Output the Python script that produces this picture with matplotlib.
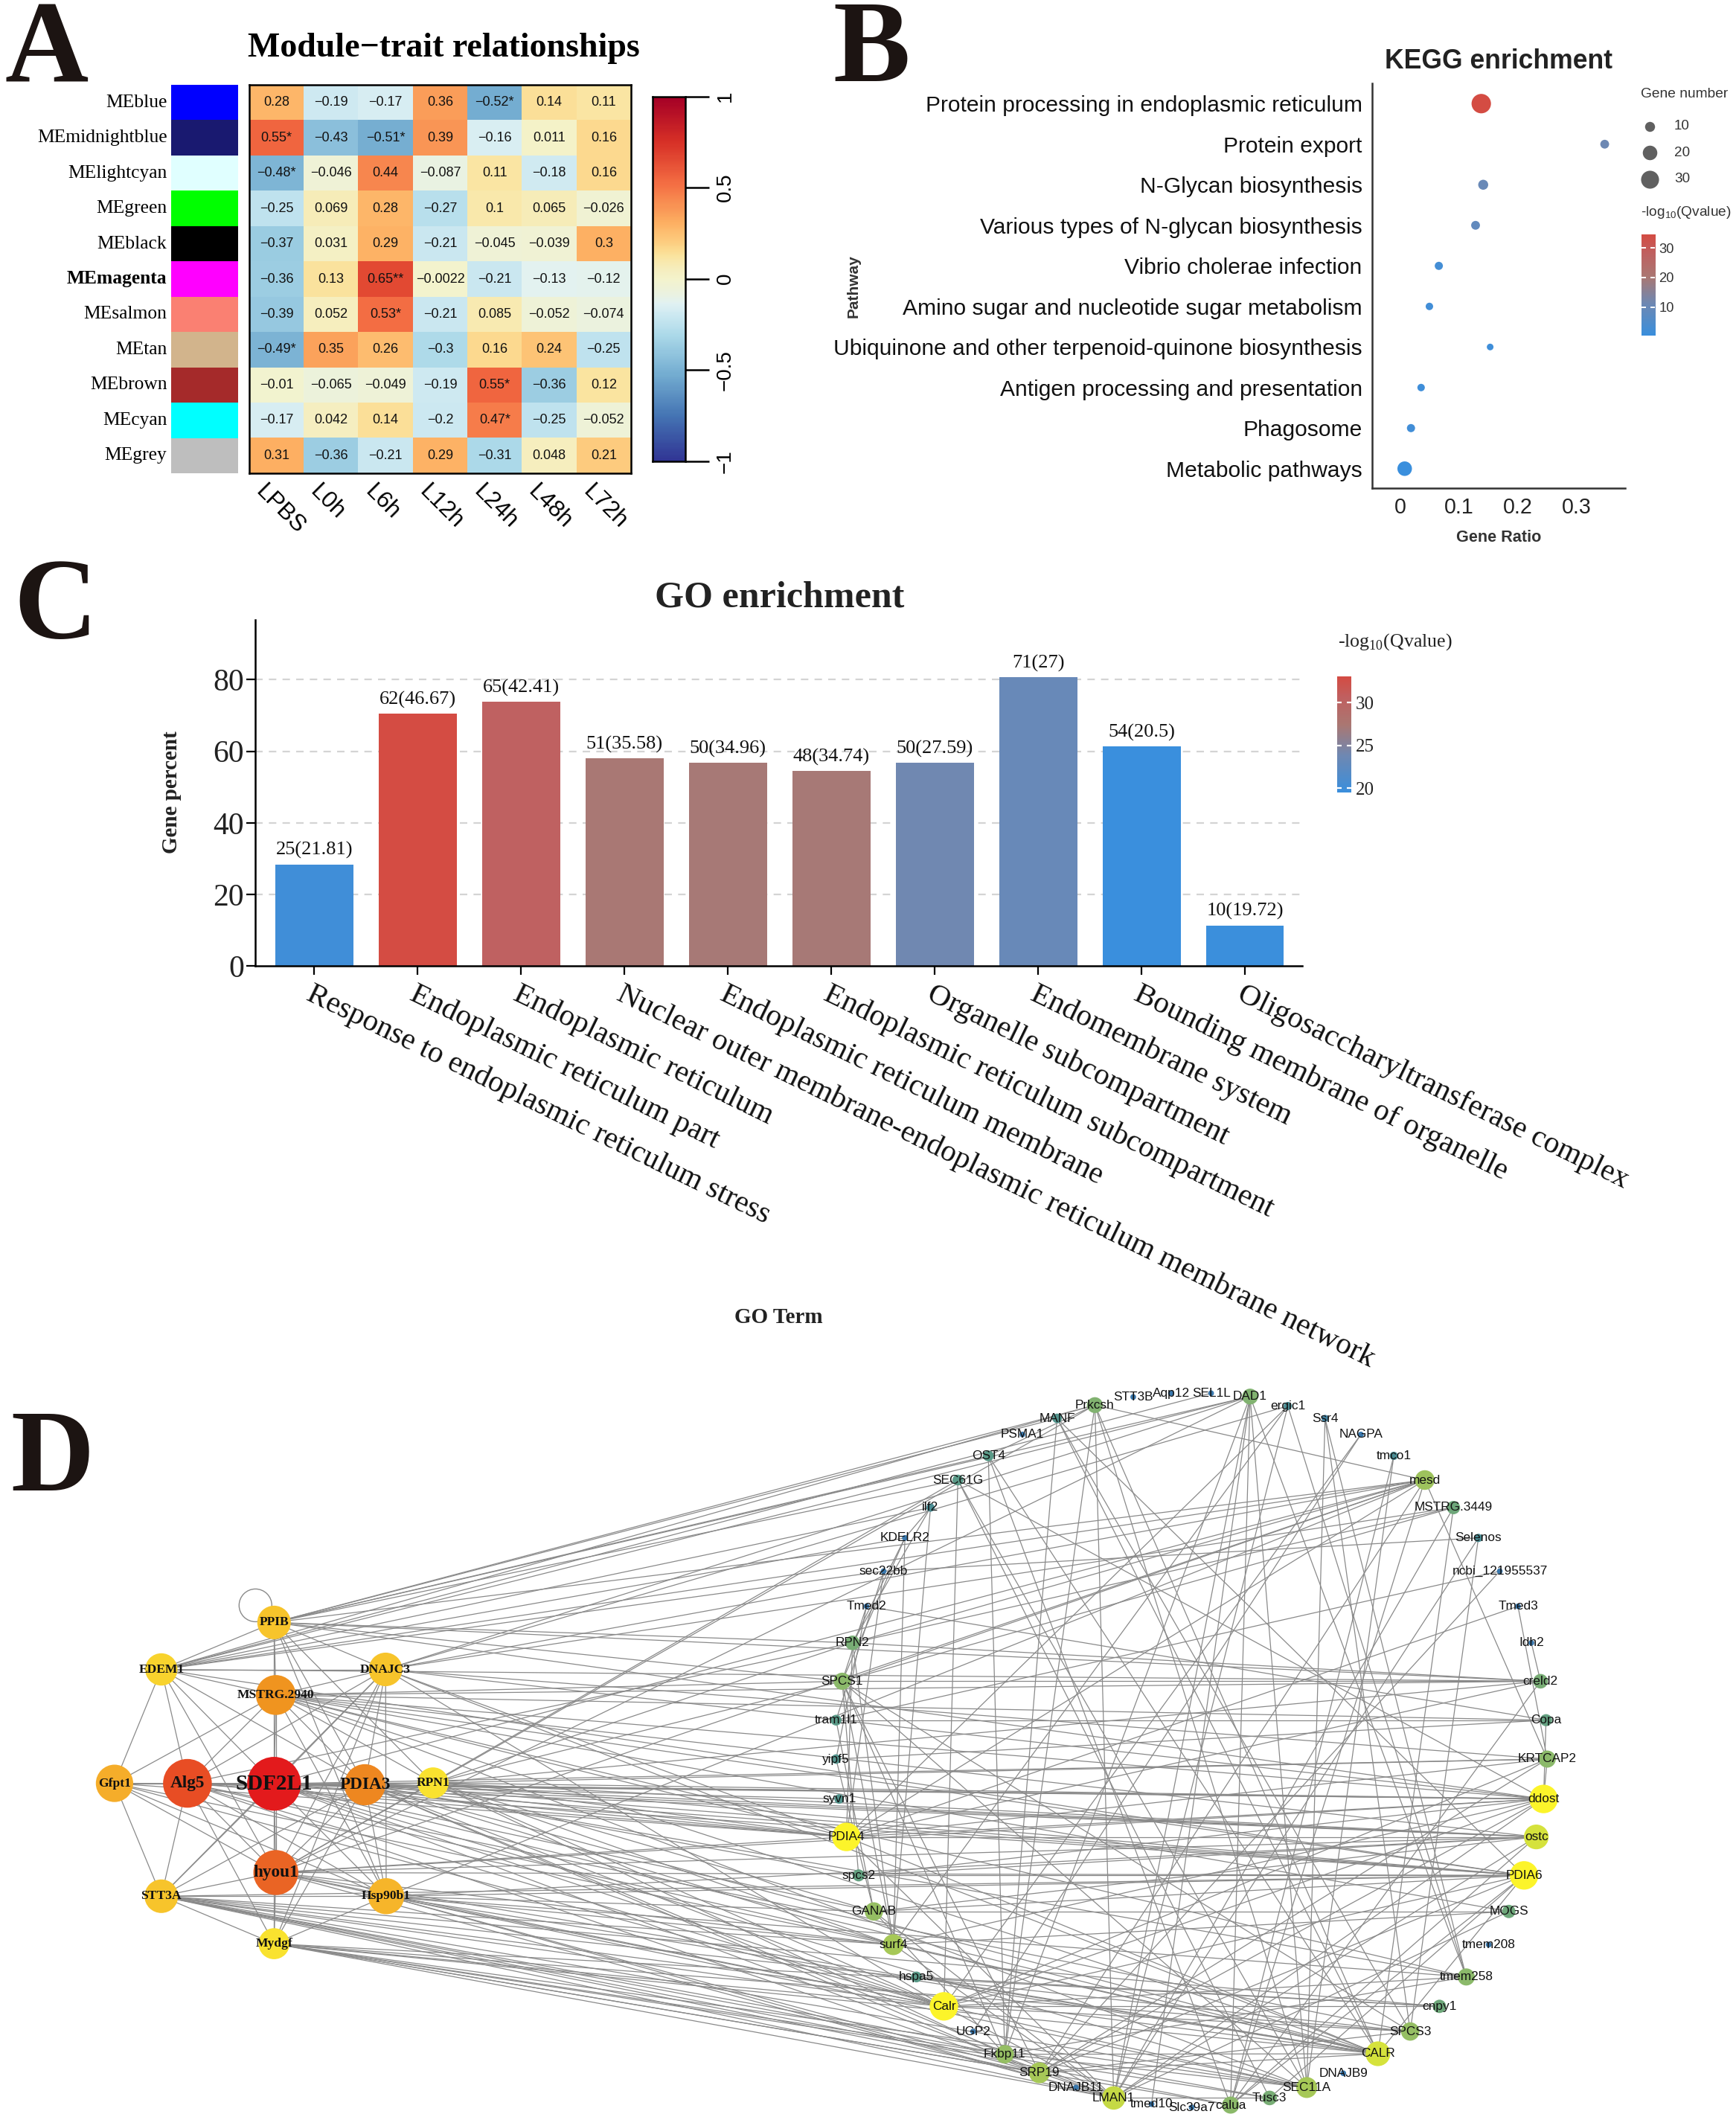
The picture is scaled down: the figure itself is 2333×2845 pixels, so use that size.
import numpy as np
import matplotlib
matplotlib.use('Agg')
import matplotlib.pyplot as plt
from matplotlib.colors import LinearSegmentedColormap, ListedColormap, Normalize, to_rgba
from matplotlib.collections import LineCollection
from matplotlib.patches import Rectangle, Circle

# ============================ DATA ============================
# --- Panel A: module-trait heatmap
modules = ['MEblue', 'MEmidnightblue', 'MElightcyan', 'MEgreen', 'MEblack', 'MEmagenta',
           'MEsalmon', 'MEtan', 'MEbrown', 'MEcyan', 'MEgrey']
module_colors = ['#0000FF', '#191970', '#E0FFFF', '#00FF00', '#000000', '#FF00FF',
                 '#FA8072', '#D2B48C', '#A52A2A', '#00FFFF', '#BEBEBE']
traits = ['LPBS', 'L0h', 'L6h', 'L12h', 'L24h', 'L48h', 'L72h']
corr_values = [
    [0.28, -0.19, -0.17, 0.36, -0.52, 0.14, 0.11],
    [0.55, -0.43, -0.51, 0.39, -0.16, 0.011, 0.16],
    [-0.48, -0.046, 0.44, -0.087, 0.11, -0.18, 0.16],
    [-0.25, 0.069, 0.28, -0.27, 0.1, 0.065, -0.026],
    [-0.37, 0.031, 0.29, -0.21, -0.045, -0.039, 0.3],
    [-0.36, 0.13, 0.65, -0.0022, -0.21, -0.13, -0.12],
    [-0.39, 0.052, 0.53, -0.21, 0.085, -0.052, -0.074],
    [-0.49, 0.35, 0.26, -0.3, 0.16, 0.24, -0.25],
    [-0.01, -0.065, -0.049, -0.19, 0.55, -0.36, 0.12],
    [-0.17, 0.042, 0.14, -0.2, 0.47, -0.25, -0.052],
    [0.31, -0.36, -0.21, 0.29, -0.31, 0.048, 0.21]]
corr_stars = [
    ['', '', '', '', '*', '', ''],
    ['*', '', '*', '', '', '', ''],
    ['*', '', '', '', '', '', ''],
    ['', '', '', '', '', '', ''],
    ['', '', '', '', '', '', ''],
    ['', '', '**', '', '', '', ''],
    ['', '', '*', '', '', '', ''],
    ['*', '', '', '', '', '', ''],
    ['', '', '', '', '*', '', ''],
    ['', '', '', '', '*', '', ''],
    ['', '', '', '', '', '', '']]
highlight_module = 'MEmagenta'

# --- Panel B: KEGG enrichment
kegg_terms = ['Protein processing in endoplasmic reticulum', 'Protein export',
              'N-Glycan biosynthesis', 'Various types of N-glycan biosynthesis',
              'Vibrio cholerae infection', 'Amino sugar and nucleotide sugar metabolism',
              'Ubiquinone and other terpenoid-quinone biosynthesis',
              'Antigen processing and presentation', 'Phagosome', 'Metabolic pathways']
kegg_ratio = [0.1376, 0.3473, 0.1409, 0.1279, 0.0655, 0.0495, 0.1527, 0.0354, 0.0182, 0.0075]
kegg_count = [35, 8, 10, 8, 7, 6, 5, 6, 7, 20]
kegg_logq = [34.6, 11.0, 10.0, 8.5, 2.5, 2.0, 1.5, 1.5, 2.0, 0.3]
kegg_xticks = [0, 0.1, 0.2, 0.3]
kegg_size_breaks = [10, 20, 30]
kegg_color_breaks = [10, 20, 30]

# --- Panel C: GO enrichment
go_terms = ['Response to endoplasmic reticulum stress', 'Endoplasmic reticulum part',
            'Endoplasmic reticulum',
            'Nuclear outer membrane-endoplasmic reticulum membrane network',
            'Endoplasmic reticulum membrane', 'Endoplasmic reticulum subcompartment',
            'Organelle subcompartment', 'Endomembrane system',
            'Bounding membrane of organelle', 'Oligosaccharyltransferase complex']
go_count = [25, 62, 65, 51, 50, 48, 50, 71, 54, 10]
go_fold = [21.81, 46.67, 42.41, 35.58, 34.96, 34.74, 27.59, 27, 20.5, 19.72]
go_percent = [28.41, 70.45, 73.86, 57.95, 56.82, 54.55, 56.82, 80.68, 61.36, 11.36]
go_logq = [20.0, 33.07, 30.5, 27.3, 27.2, 27.2, 23.9, 23.3, 19.49, 19.6]
go_yticks = [0, 20, 40, 60, 80]
go_color_breaks = [20, 25, 30]

# --- Panel D: co-expression network (layout coordinates in pixel units)
hub_names = ['PPIB', 'EDEM1', 'DNAJC3', 'MSTRG.2940', 'Gfpt1', 'Alg5', 'SDF2L1', 'PDIA3',
             'RPN1', 'hyou1', 'STT3A', 'Hsp90b1', 'Mydgf']
hub_x = [368.3, 216.8, 518.2, 370.7, 153.9, 251.9, 368.3, 490.3, 582.0, 370.7, 216.8, 519.0, 368.3]
hub_y = [2180.4, 2243.5, 2243.5, 2277.9, 2396.6, 2396.6, 2397.2, 2398.5, 2396.0, 2516.5,
         2548.3, 2548.3, 2612.1]
hub_degree = [23, 22, 23, 28, 26, 35, 39, 29, 21, 32, 23, 25, 21]

ring_names = ['STT3B', 'Aqp12', 'SEL1L', 'DAD1', 'ergic1', 'Ssr4', 'NAGPA', 'tmco1', 'mesd',
              'MSTRG.3449', 'Selenos', 'ncbi_121955537', 'Tmed3', 'Idh2', 'creld2', 'Copa',
              'KRTCAP2', 'ddost', 'ostc', 'PDIA6', 'MOGS', 'tmem208', 'tmem258', 'cnpy1',
              'SPCS3', 'CALR', 'DNAJB9', 'SEC11A', 'Tusc3', 'calua', 'Slc39a7', 'tmed10',
              'LMAN1', 'DNAJB11', 'SRP19', 'Fkbp11', 'UGP2', 'Calr', 'hspa5', 'surf4',
              'GANAB', 'spcs2', 'PDIA4', 'syvn1', 'yipf5', 'tram1l1', 'SPCS1', 'RPN2',
              'Tmed2', 'sec22bb', 'KDELR2', 'ilf2', 'SEC61G', 'OST4', 'PSMA1', 'MANF', 'Prkcsh']
ring_x = [1522.9, 1573.6, 1627.6, 1680.0, 1730.7, 1780.7, 1828.9, 1873.1, 1914.8, 1953.3,
          1986.8, 2015.5, 2040.0, 2058.0, 2070.3, 2077.7, 2079.3, 2074.4, 2064.6, 2048.2,
          2027.7, 2000.7, 1970.5, 1934.5, 1895.2, 1851.8, 1805.2, 1756.1, 1706.2, 1653.8,
          1601.5, 1547.5, 1496.7, 1446.0, 1396.9, 1350.3, 1307.7, 1268.5, 1231.6, 1200.5,
          1174.4, 1153.9, 1137.5, 1127.7, 1123.6, 1123.6, 1131.8, 1145.7, 1164.5, 1187.5,
          1216.1, 1250.5, 1287.3, 1328.2, 1374.0, 1420.6, 1471.4]
ring_y = [1877.4, 1872.3, 1872.3, 1876.8, 1889.5, 1906.1, 1927.8, 1956.5, 1989.0, 2026.0,
          2066.8, 2111.5, 2158.7, 2207.8, 2259.4, 2311.7, 2364.0, 2417.6, 2468.6, 2520.3,
          2568.8, 2613.4, 2656.8, 2696.3, 2730.1, 2760.0, 2786.2, 2805.4, 2819.4, 2829.0,
          2832.1, 2827.7, 2819.4, 2805.4, 2785.6, 2760.7, 2730.1, 2696.3, 2656.8, 2613.4,
          2568.8, 2520.3, 2468.6, 2417.6, 2364.0, 2311.7, 2259.4, 2207.8, 2158.7, 2111.5,
          2066.8, 2026.0, 1989.0, 1956.5, 1927.8, 1906.1, 1888.3]
ring_degree = [1, 1, 1, 9, 3, 2, 1, 3, 12, 7, 3, 1, 1, 1, 8, 6, 10, 19, 16, 19, 7, 1, 10, 7,
               11, 16, 1, 13, 8, 10, 1, 1, 15, 1, 13, 11, 1, 19, 5, 13, 11, 6, 19, 4, 4, 5,
               10, 8, 1, 1, 1, 3, 5, 5, 1, 4, 9]

edges_hub = [
    ('PPIB', 'EDEM1'), ('PPIB', 'DNAJC3'), ('PPIB', 'MSTRG.2940'), ('PPIB', 'SDF2L1'),
    ('PPIB', 'PDIA3'), ('PPIB', 'Hsp90b1'), ('PPIB', 'RPN1'),
    ('EDEM1', 'DNAJC3'), ('EDEM1', 'MSTRG.2940'), ('EDEM1', 'Gfpt1'), ('EDEM1', 'Alg5'),
    ('EDEM1', 'SDF2L1'), ('EDEM1', 'hyou1'), ('EDEM1', 'PDIA3'),
    ('DNAJC3', 'MSTRG.2940'), ('DNAJC3', 'SDF2L1'), ('DNAJC3', 'PDIA3'), ('DNAJC3', 'Hsp90b1'),
    ('DNAJC3', 'hyou1'), ('DNAJC3', 'Alg5'), ('DNAJC3', 'Mydgf'), ('DNAJC3', 'STT3A'),
    ('MSTRG.2940', 'SDF2L1'), ('MSTRG.2940', 'Alg5'), ('MSTRG.2940', 'PDIA3'),
    ('MSTRG.2940', 'hyou1'), ('MSTRG.2940', 'Hsp90b1'), ('MSTRG.2940', 'RPN1'),
    ('MSTRG.2940', 'Gfpt1'),
    ('Gfpt1', 'Alg5'), ('Gfpt1', 'SDF2L1'), ('Gfpt1', 'STT3A'), ('Gfpt1', 'hyou1'),
    ('Gfpt1', 'Hsp90b1'),
    ('Alg5', 'SDF2L1'), ('Alg5', 'hyou1'), ('Alg5', 'STT3A'), ('Alg5', 'Mydgf'),
    ('Alg5', 'Hsp90b1'), ('Alg5', 'PDIA3'),
    ('SDF2L1', 'PDIA3'), ('SDF2L1', 'RPN1'), ('SDF2L1', 'hyou1'), ('SDF2L1', 'Hsp90b1'),
    ('SDF2L1', 'STT3A'), ('SDF2L1', 'Mydgf'),
    ('PDIA3', 'RPN1'), ('PDIA3', 'hyou1'), ('PDIA3', 'Hsp90b1'), ('PDIA3', 'Mydgf'),
    ('PDIA3', 'STT3A'),
    ('hyou1', 'Mydgf'), ('hyou1', 'STT3A'), ('hyou1', 'Hsp90b1'),
    ('STT3A', 'Hsp90b1'), ('STT3A', 'Mydgf'), ('Hsp90b1', 'Mydgf')]

edges_cross = [
    ('PPIB', 'Prkcsh'), ('PPIB', 'DAD1'), ('PPIB', 'MANF'), ('PPIB', 'OST4'), ('PPIB', 'SEC61G'),
    ('PPIB', 'RPN2'), ('PPIB', 'SPCS1'), ('PPIB', 'creld2'), ('PPIB', 'mesd'), ('PPIB', 'ddost'),
    ('EDEM1', 'Prkcsh'), ('EDEM1', 'DAD1'), ('EDEM1', 'SEL1L'), ('EDEM1', 'ilf2'),
    ('EDEM1', 'KDELR2'), ('EDEM1', 'sec22bb'), ('EDEM1', 'mesd'), ('EDEM1', 'creld2'),
    ('EDEM1', 'PDIA6'),
    ('DNAJC3', 'DAD1'), ('DNAJC3', 'ergic1'), ('DNAJC3', 'mesd'), ('DNAJC3', 'ddost'),
    ('DNAJC3', 'PDIA4'), ('DNAJC3', 'Calr'), ('DNAJC3', 'CALR'), ('DNAJC3', 'MSTRG.3449'),
    ('DNAJC3', 'KRTCAP2'),
    ('MSTRG.2940', 'ddost'), ('MSTRG.2940', 'ostc'), ('MSTRG.2940', 'PDIA6'),
    ('MSTRG.2940', 'PDIA4'), ('MSTRG.2940', 'SPCS1'), ('MSTRG.2940', 'creld2'),
    ('MSTRG.2940', 'Copa'), ('MSTRG.2940', 'MOGS'), ('MSTRG.2940', 'CALR'),
    ('MSTRG.2940', 'tmem258'), ('MSTRG.2940', 'SEC11A'),
    ('Gfpt1', 'ddost'), ('Gfpt1', 'PDIA4'), ('Gfpt1', 'Calr'), ('Gfpt1', 'surf4'),
    ('Alg5', 'ddost'), ('Alg5', 'ostc'), ('Alg5', 'PDIA4'), ('Alg5', 'PDIA6'), ('Alg5', 'LMAN1'),
    ('Alg5', 'CALR'), ('Alg5', 'Calr'), ('Alg5', 'SPCS3'), ('Alg5', 'RPN2'),
    ('SDF2L1', 'ddost'), ('SDF2L1', 'ostc'), ('SDF2L1', 'PDIA6'), ('SDF2L1', 'PDIA4'),
    ('SDF2L1', 'Calr'), ('SDF2L1', 'CALR'), ('SDF2L1', 'LMAN1'), ('SDF2L1', 'SEC11A'),
    ('SDF2L1', 'mesd'), ('SDF2L1', 'GANAB'), ('SDF2L1', 'KRTCAP2'), ('SDF2L1', 'syvn1'),
    ('PDIA3', 'ddost'), ('PDIA3', 'ostc'), ('PDIA3', 'PDIA6'), ('PDIA3', 'PDIA4'),
    ('PDIA3', 'Calr'), ('PDIA3', 'CALR'), ('PDIA3', 'surf4'), ('PDIA3', 'LMAN1'),
    ('PDIA3', 'tmem258'), ('PDIA3', 'SRP19'), ('PDIA3', 'spcs2'),
    ('RPN1', 'ddost'), ('RPN1', 'ostc'), ('RPN1', 'PDIA6'), ('RPN1', 'PDIA4'), ('RPN1', 'surf4'),
    ('RPN1', 'GANAB'), ('RPN1', 'SPCS1'), ('RPN1', 'RPN2'), ('RPN1', 'Calr'), ('RPN1', 'Fkbp11'),
    ('RPN1', 'KRTCAP2'), ('RPN1', 'creld2'),
    ('hyou1', 'ddost'), ('hyou1', 'ostc'), ('hyou1', 'PDIA4'), ('hyou1', 'PDIA6'),
    ('hyou1', 'Calr'), ('hyou1', 'CALR'), ('hyou1', 'LMAN1'), ('hyou1', 'mesd'),
    ('hyou1', 'Prkcsh'), ('hyou1', 'DAD1'), ('hyou1', 'SEC61G'), ('hyou1', 'surf4'),
    ('STT3A', 'CALR'), ('STT3A', 'SEC11A'), ('STT3A', 'Tusc3'), ('STT3A', 'calua'),
    ('STT3A', 'LMAN1'), ('STT3A', 'SRP19'), ('STT3A', 'Fkbp11'), ('STT3A', 'Calr'),
    ('STT3A', 'surf4'), ('STT3A', 'SPCS3'), ('STT3A', 'cnpy1'), ('STT3A', 'PDIA6'),
    ('Hsp90b1', 'CALR'), ('Hsp90b1', 'Calr'), ('Hsp90b1', 'LMAN1'), ('Hsp90b1', 'PDIA6'),
    ('Hsp90b1', 'ostc'), ('Hsp90b1', 'surf4'), ('Hsp90b1', 'SRP19'), ('Hsp90b1', 'SEC11A'),
    ('Hsp90b1', 'GANAB'), ('Hsp90b1', 'tmem258'), ('Hsp90b1', 'mesd'),
    ('Mydgf', 'CALR'), ('Mydgf', 'Calr'), ('Mydgf', 'SRP19'), ('Mydgf', 'Fkbp11'),
    ('Mydgf', 'Tusc3'), ('Mydgf', 'calua'), ('Mydgf', 'SEC11A'), ('Mydgf', 'cnpy1'),
    ('Mydgf', 'SPCS3'), ('Mydgf', 'LMAN1')]

edges_ring = [
    ('Prkcsh', 'Fkbp11'), ('Prkcsh', 'LMAN1'), ('Prkcsh', 'SEC11A'), ('Prkcsh', 'mesd'),
    ('Prkcsh', 'OST4'), ('Prkcsh', 'CALR'),
    ('DAD1', 'LMAN1'), ('DAD1', 'tmed10'), ('DAD1', 'calua'), ('DAD1', 'SEC11A'),
    ('DAD1', 'Fkbp11'), ('DAD1', 'tmem258'),
    ('MANF', 'Fkbp11'), ('MANF', 'CALR'), ('MANF', 'SPCS3'), ('MANF', 'PDIA6'),
    ('OST4', 'Fkbp11'), ('OST4', 'calua'), ('OST4', 'CALR'),
    ('SEC61G', 'Calr'), ('SEC61G', 'Tusc3'), ('SEC61G', 'SEC11A'), ('SEC61G', 'ddost'),
    ('ilf2', 'KDELR2'), ('ilf2', 'surf4'),
    ('ergic1', 'LMAN1'), ('ergic1', 'surf4'), ('ergic1', 'PDIA4'), ('ergic1', 'tmem258'),
    ('Ssr4', 'tmem258'), ('Ssr4', 'SPCS3'), ('Ssr4', 'SEC11A'),
    ('NAGPA', 'Calr'), ('NAGPA', 'UGP2'), ('tmco1', 'SEC11A'), ('tmco1', 'calua'),
    ('mesd', 'RPN2'), ('mesd', 'SPCS1'), ('mesd', 'KRTCAP2'), ('mesd', 'PDIA4'),
    ('mesd', 'SRP19'), ('mesd', 'calua'),
    ('MSTRG.3449', 'SPCS1'), ('MSTRG.3449', 'RPN2'), ('MSTRG.3449', 'CALR'),
    ('MSTRG.3449', 'LMAN1'),
    ('Selenos', 'LMAN1'), ('Selenos', 'SPCS3'), ('Selenos', 'sec22bb'),
    ('ncbi_121955537', 'SRP19'), ('ncbi_121955537', 'tram1l1'),
    ('Tmed3', 'KRTCAP2'), ('Tmed3', 'PDIA4'), ('Idh2', 'creld2'),
    ('creld2', 'SPCS1'), ('creld2', 'RPN2'), ('creld2', 'PDIA4'), ('creld2', 'calua'),
    ('Copa', 'tram1l1'), ('Copa', 'yipf5'), ('Copa', 'Tmed2'), ('Copa', 'ddost'),
    ('KRTCAP2', 'PDIA4'), ('KRTCAP2', 'SRP19'), ('KRTCAP2', 'Calr'), ('KRTCAP2', 'ddost'),
    ('ddost', 'PDIA4'), ('ddost', 'spcs2'), ('ddost', 'surf4'),
    ('ddost', 'Calr'), ('ddost', 'SRP19'), ('ddost', 'LMAN1'),
    ('ostc', 'PDIA4'), ('ostc', 'spcs2'), ('ostc', 'GANAB'), ('ostc', 'calua'), ('ostc', 'LMAN1'),
    ('PDIA6', 'spcs2'), ('PDIA6', 'GANAB'), ('PDIA6', 'Calr'),
    ('PDIA6', 'SRP19'), ('PDIA6', 'Tusc3'), ('PDIA6', 'CALR'), ('PDIA6', 'calua'),
    ('MOGS', 'GANAB'), ('MOGS', 'surf4'), ('MOGS', 'LMAN1'),
    ('tmem258', 'Calr'), ('tmem258', 'Fkbp11'),
    ('cnpy1', 'Calr'), ('cnpy1', 'hspa5'),
    ('SPCS3', 'Calr'), ('SPCS3', 'SRP19'), ('SPCS3', 'SPCS1'),
    ('CALR', 'surf4'), ('CALR', 'Fkbp11'), ('CALR', 'SRP19'),
    ('CALR', 'hspa5'), ('CALR', 'PDIA4'),
    ('SEC11A', 'Fkbp11'), ('SEC11A', 'SPCS1'), ('SEC11A', 'Calr'),
    ('Tusc3', 'LMAN1'),
    ('LMAN1', 'surf4'), ('LMAN1', 'PDIA4'), ('LMAN1', 'GANAB'), ('LMAN1', 'Calr'),
    ('SRP19', 'SPCS1'), ('Fkbp11', 'SPCS1'), ('Fkbp11', 'GANAB'),
    ('surf4', 'SPCS1'), ('surf4', 'RPN2'), ('surf4', 'KDELR2'),
    ('GANAB', 'yipf5'), ('GANAB', 'tram1l1'),
    ('spcs2', 'SPCS1'),
    ('PDIA4', 'RPN2'), ('PDIA4', 'sec22bb'),
    ('tram1l1', 'sec22bb'), ('yipf5', 'Tmed2'), ('RPN2', 'KDELR2'), ('RPN2', 'ilf2'),
    ('SPCS1', 'KDELR2'), ('SPCS1', 'Tmed2')]
self_loops = ['PPIB']

# ============================ FIGURE ============================
W, H = 2333, 2845
DPI = 200
PT = 72.0 / DPI
SERIF = ['Liberation Serif', 'DejaVu Serif']
SANS = ['Liberation Sans', 'DejaVu Sans']
plt.rcParams['font.family'] = SANS
plt.rcParams['lines.scale_dashes'] = False

fig = plt.figure(figsize=(W / DPI, H / DPI), dpi=DPI)
fig.patch.set_facecolor('white')


def rect(x0, y0, x1, y1):
    return [x0 / W, 1 - y1 / H, (x1 - x0) / W, (y1 - y0) / H]


def fx(x):
    return x / W


def fy(y):
    return 1 - y / H


def minus(s):
    return s.replace('-', '\u2212')


qcmap = LinearSegmentedColormap.from_list(
    'q', [(0, '#3a8fdd'), (0.32, '#6f88b2'), (0.58, '#aa7873'), (0.82, '#c06060'), (1, '#d44c43')])

# heatmap palette: RdYlBu (reversed), slightly steeper ramp, muted cream centre
_v = np.linspace(-1, 1, 256)
_base = plt.get_cmap('RdYlBu_r')(0.5 + 0.5 * np.sign(_v) * np.abs(_v) ** 0.8)
_w = (0.55 * np.exp(-(_v / 0.12) ** 2))[:, None]
_cream = np.array(to_rgba('#ecebd6'))[None, :]
hcmap = ListedColormap(_base * (1 - _w) + _cream * _w)

# panel letters
for letter, lx, ly in [('A', 6, 110), ('B', 1119, 109), ('C', 18, 857), ('D', 14, 2003)]:
    fig.text(fx(lx), fy(ly), letter, family=SERIF, weight='bold', fontsize=56,
             ha='left', va='baseline', color='#1c1412')

# ---------------------------- Panel A ----------------------------
HX0, HY0, HX1, HY1 = 335, 114, 848, 636
corr = np.array(corr_values)
nr, nc = corr.shape
axh = fig.add_axes(rect(HX0, HY0, HX1, HY1))
axh.imshow(corr, cmap=hcmap, vmin=-1, vmax=1, aspect='auto',
           extent=(0, nc, nr, 0), interpolation='nearest')
for i in range(nr):
    for j in range(nc):
        lab = minus(f"{corr[i, j]:g}") + corr_stars[i][j]
        axh.text(j + 0.5, i + 0.5, lab, ha='center', va='center', fontsize=6.5,
                 family=SANS, color='#111111')
axh.set_xticks([])
axh.set_yticks([])
for sp in axh.spines.values():
    sp.set_linewidth(0.9)
    sp.set_color('black')

axs = fig.add_axes(rect(230, HY0, 320, HY1))
for i, c in enumerate(module_colors):
    axs.add_patch(Rectangle((0, i), 1, 1, facecolor=c, edgecolor='none'))
axs.set_xlim(0, 1)
axs.set_ylim(nr, 0)
axs.axis('off')

rowh = (HY1 - HY0) / nr
colw = (HX1 - HX0) / nc
for i, m in enumerate(modules):
    fig.text(fx(224.5), fy(HY0 + (i + 0.5) * rowh), m, ha='right', va='center',
             family=SERIF, fontsize=9.2,
             weight='bold' if m == highlight_module else 'normal', color='black')
for j, t in enumerate(traits):
    fig.text(fx(HX0 + (j + 0.5) * colw - 13), fy(HY1 + 10), t, rotation=-45,
             rotation_mode='anchor', ha='left', va='top', family=SANS, fontsize=11.3)

fig.text(fx(596), fy(76), 'Module\u2212trait relationships', ha='center', va='baseline',
         family=SERIF, weight='bold', fontsize=16.5)

cax = fig.add_axes(rect(877, 129.5, 921.5, 620))
grad = np.linspace(-1, 1, 256).reshape(-1, 1)
cax.imshow(grad, cmap=hcmap, vmin=-1, vmax=1, aspect='auto', extent=(0, 1, -1, 1),
           origin='lower')
cax.set_xticks([])
cax.yaxis.tick_right()
cb_ticks = [-1, -0.5, 0, 0.5, 1]
cax.set_yticks(cb_ticks)
cax.set_yticklabels([minus(f"{v:g}") for v in cb_ticks], family=SANS)
cax.tick_params(axis='y', length=11.5, width=0.9, labelsize=10, pad=3, labelrotation=90)
for lbl in cax.get_yticklabels():
    lbl.set_va('center')
for sp in cax.spines.values():
    sp.set_linewidth(0.9)

# ---------------------------- Panel B ----------------------------
def kegg_size(n):
    return 2.6 * (np.asarray(n, dtype=float) - 1)


knorm = Normalize(min(kegg_logq), max(kegg_logq))
axk = fig.add_axes(rect(1844, 112, 2184, 656))
axk.scatter(kegg_ratio, np.arange(len(kegg_terms)), s=kegg_size(kegg_count), c=kegg_logq,
            cmap=qcmap, norm=knorm, linewidths=0, zorder=3)
axk.set_xlim(-0.0478, 0.382)
axk.set_ylim(len(kegg_terms) - 0.52, -0.5)
axk.set_yticks(np.arange(len(kegg_terms)))
axk.set_yticklabels(kegg_terms, family=SANS, fontsize=10.8, color='#111111')
axk.set_xticks(kegg_xticks)
axk.set_xticklabels([f"{v:g}" for v in kegg_xticks], family=SANS, fontsize=10.3,
                    color='#222222')
axk.tick_params(axis='y', length=0, pad=4.8)
axk.tick_params(axis='x', length=0, pad=4.3)
for s in ['top', 'right']:
    axk.spines[s].set_visible(False)
for s in ['left', 'bottom']:
    axk.spines[s].set_color('#333333')
    axk.spines[s].set_linewidth(0.9)
axk.patch.set_alpha(0)

fig.text(fx(2014), fy(92), 'KEGG enrichment', ha='center', va='baseline', family=SANS,
         weight='bold', fontsize=12.8, color='#222222')
fig.text(fx(1147), fy(385), 'Pathway', ha='center', va='center', rotation=90, family=SANS,
         weight='bold', fontsize=7.5, color='#333333')
fig.text(fx(2014), fy(722), 'Gene Ratio', ha='center', va='center', family=SANS,
         weight='bold', fontsize=7.8, color='#333333')

# legends (overlay axes in pixel units)
ov = fig.add_axes([0, 0, 1, 1])
ov.set_xlim(0, W)
ov.set_ylim(H, 0)
ov.axis('off')
ov.patch.set_alpha(0)
ov.text(2205, 126.5, 'Gene number', ha='left', va='center', family=SANS, fontsize=6.9,
        color='#333333')
for k, b in enumerate(kegg_size_breaks):
    yy = 170 + k * 35.3
    ov.scatter([2216.5], [yy], s=kegg_size([b]), color='#606060', linewidths=0)
    ov.text(2250, yy, str(b), ha='left', va='center', family=SANS, fontsize=6.8,
            color='#333333')
ov.text(2205, 285.5, '-log$_{\\mathregular{10}}$(Qvalue)', ha='left', va='center',
        family=SANS, fontsize=6.9, color='#333333')

kcb = fig.add_axes(rect(2205.5, 315, 2224, 451))
kgrad = np.linspace(knorm.vmin, knorm.vmax, 256).reshape(-1, 1)
kcb.imshow(kgrad, cmap=qcmap, norm=knorm, aspect='auto',
           extent=(0, 1, knorm.vmin, knorm.vmax), origin='lower')
kcb.set_xticks([])
kcb.set_yticks(kegg_color_breaks)
kcb.set_yticklabels([str(v) for v in kegg_color_breaks], family=SANS, fontsize=6.6,
                    color='#333333')
kcb.tick_params(axis='y', direction='in', length=2.2, width=0.7, color='white', left=True,
                right=True, labelleft=False, labelright=True, pad=2)
for sp in kcb.spines.values():
    sp.set_visible(False)

# ---------------------------- Panel C ----------------------------
gnorm = Normalize(min(go_logq), max(go_logq))
axg = fig.add_axes(rect(343.3, 833.3, 1749.6, 1298.4))
xg = np.arange(len(go_terms))
axg.bar(xg, go_percent, width=0.755, color=qcmap(gnorm(np.array(go_logq))), zorder=2)
for yv in go_yticks[1:]:
    axg.axhline(yv, color='#d4d4d4', lw=0.8, linestyle=(0, (3.6, 3.0)), zorder=1)
for xi, p, c, f in zip(xg, go_percent, go_count, go_fold):
    axg.text(xi, p + 1.5, f"{c}({f:g})", ha='center', va='bottom', family=SERIF,
             fontsize=9.5, color='#111111')
axg.set_xlim(-0.569, 9.551)
axg.set_ylim(0, 96.6)
axg.set_yticks(go_yticks)
axg.set_yticklabels([str(v) for v in go_yticks], family=SERIF, fontsize=15, color='#222222')
axg.set_xticks(xg)
axg.set_xticklabels(go_terms, family=SERIF, fontsize=14.8, rotation=-26,
                    rotation_mode='anchor', ha='left', va='top', color='#111111')
axg.tick_params(axis='y', length=4.3, width=0.8, pad=1.2)
axg.tick_params(axis='x', length=4.3, width=0.8, pad=2.5)
for s in ['top', 'right']:
    axg.spines[s].set_visible(False)
for s in ['left', 'bottom']:
    axg.spines[s].set_linewidth(0.9)
axg.patch.set_alpha(0)

fig.text(fx(1048), fy(816), 'GO enrichment', ha='center', va='baseline', family=SERIF,
         weight='bold', fontsize=18, color='#222222')
fig.text(fx(230), fy(1065), 'Gene percent', ha='center', va='center', rotation=90,
         family=SERIF, weight='bold', fontsize=10.5, color='#222222')
fig.text(fx(1046), fy(1771), 'GO Term', ha='center', va='center', family=SERIF,
         weight='bold', fontsize=10.5, color='#222222')
fig.text(fx(1798), fy(863), '-log$_{\\mathregular{10}}$(Qvalue)', ha='left', va='center',
         family=SERIF, fontsize=9.3, color='#222222')

gcb = fig.add_axes(rect(1797.3, 909, 1816, 1065))
ggrad = np.linspace(gnorm.vmin, gnorm.vmax, 256).reshape(-1, 1)
gcb.imshow(ggrad, cmap=qcmap, norm=gnorm, aspect='auto',
           extent=(0, 1, gnorm.vmin, gnorm.vmax), origin='lower')
gcb.set_xticks([])
gcb.set_yticks(go_color_breaks)
gcb.set_yticklabels([str(v) for v in go_color_breaks], family=SERIF, fontsize=9,
                    color='#222222')
gcb.tick_params(axis='y', direction='in', length=2.2, width=0.8, color='white', left=True,
                right=True, labelleft=False, labelright=True, pad=2)
for sp in gcb.spines.values():
    sp.set_visible(False)

# ---------------------------- Panel D ----------------------------
dcmap = LinearSegmentedColormap.from_list('deg', [
    (0.0, '#3a78ad'), (0.0526, '#4b8e93'), (0.105, '#5b9b87'), (0.158, '#6ea77a'),
    (0.237, '#8cb96a'), (0.316, '#a7c856'), (0.395, '#d4e23c'), (0.474, '#fcf42a'),
    (0.526, '#f9e22f'), (0.579, '#f7c42b'), (0.658, '#f5ad2a'), (0.711, '#f0931f'),
    (0.816, '#ea6424'), (0.895, '#e84f24'), (1.0, '#e31a1c')])
dnorm = Normalize(1, 39)


def node_diam(d):
    return 6 + 1.7 * np.asarray(d, dtype=float)


axn = fig.add_axes(rect(0, 1830, W, H))
axn.set_xlim(0, W)
axn.set_ylim(H, 1830)
axn.axis('off')
axn.patch.set_alpha(0)

pos = {}
for n, x, y in zip(hub_names, hub_x, hub_y):
    pos[n] = (x, y)
for n, x, y in zip(ring_names, ring_x, ring_y):
    pos[n] = (x, y)

all_edges = edges_hub + edges_cross + edges_ring
segs = [[pos[a], pos[b]] for a, b in all_edges]
axn.add_collection(LineCollection(segs, colors='#8a8a8a', linewidths=0.45, zorder=1))
for n in self_loops:
    x, y = pos[n]
    axn.add_patch(Circle((x - 25, y - 23), 22, fill=False, edgecolor='#8a8a8a', lw=0.5,
                         zorder=1))

all_x = hub_x + ring_x
all_y = hub_y + ring_y
all_deg = hub_degree + ring_degree
diam = node_diam(all_deg)
axn.scatter(all_x, all_y, s=(diam * PT) ** 2, c=all_deg, cmap=dcmap, norm=dnorm,
            linewidths=0, zorder=2)

for n, x, y, d in zip(hub_names, hub_x, hub_y, hub_degree):
    fs = 10.5 if d >= 39 else (8.4 if d >= 29 else 6.3)
    axn.text(x, y, n, ha='center', va='center', family=SERIF, weight='bold', fontsize=fs,
             color='#111111', zorder=3)
for n, x, y in zip(ring_names, ring_x, ring_y):
    axn.text(x, y, n, ha='center', va='center', family=SANS, fontsize=6.2,
             color='#111111', zorder=3)

fig.savefig('out.png', dpi=DPI, facecolor='white')
